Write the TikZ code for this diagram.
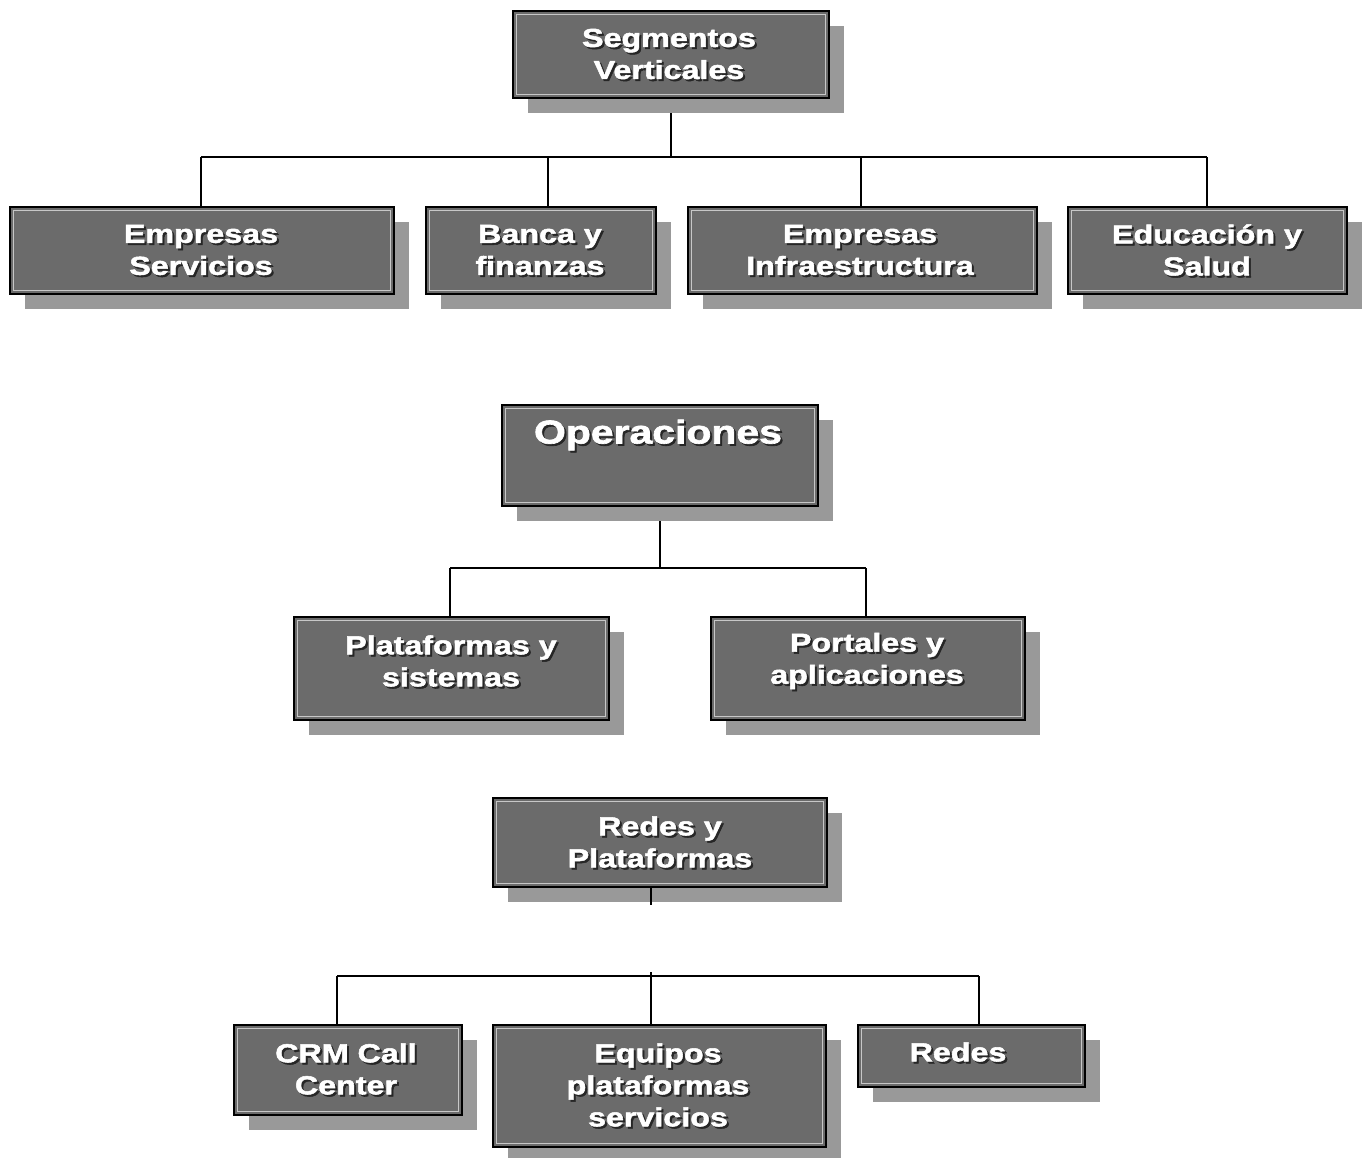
\documentclass[tikz,border=0pt]{standalone}
\usepackage{fontspec}
\newfontfamily\boxfont[FakeStretch=1.24,BoldFeatures={FakeBold=2}]{Liberation Sans}
\usetikzlibrary{shadows}
\begin{document}
\begin{tikzpicture}[x=1pt,y=-1pt,
  box/.style={draw=black, line width=2.4pt, fill=black!58, inner sep=0pt,
    drop shadow={shadow xshift=15pt, shadow yshift=-15pt, fill=black!40, opacity=1},
    path picture={\draw[black!22, line width=0.9pt]
      ([shift={(3.2pt,-3.2pt)}]path picture bounding box.north west) rectangle
      ([shift={(-3.2pt,3.2pt)}]path picture bounding box.south east);}},
  lbl/.style={text=white, align=center, inner sep=0pt,
    font=\boxfont\bfseries\fontsize{26}{32}\selectfont},
  lblshade/.style={lbl, text=black!85},
  link/.style={draw=black, line width=1.8pt}
]
\newcommand\boxlabel[4]{%
  \node[lblshade] (#1s) at (#2+2,#3+2) {#4};
  \node[lbl] (#1) at (#2,#3) {#4};}

\fill[white] (0,0) rectangle (1362,1157);
\useasboundingbox (0,0) rectangle (1362,1157);

% ---------- Segmentos verticales ----------
\draw[link] (671,98) -- (671,157);
\draw[link] (201,157) -- (1207,157);
\draw[link] (201,157) -- (201,207);
\draw[link] (548,157) -- (548,207);
\draw[link] (861,157) -- (861,207);
\draw[link] (1207,157) -- (1207,207);

\node[box, minimum width=316pt, minimum height=87pt] (sv) at (671,54.5) {};
\boxlabel{svt}{669}{54}{Segmentos\\Verticales}

\node[box, minimum width=384pt, minimum height=87pt] (es) at (202,250.5) {};
\boxlabel{est}{201}{250}{Empresas\\Servicios}
\node[box, minimum width=230pt, minimum height=87pt] (ba) at (541,250.5) {};
\boxlabel{bat}{540}{250}{Banca y\\finanzas}
\node[box, minimum width=349pt, minimum height=87pt] (ei) at (862.5,250.5) {};
\boxlabel{eit}{860}{250}{Empresas\\Infraestructura}
\node[box, minimum width=279pt, minimum height=87pt] (ed) at (1207.5,250.5) {};
\boxlabel{edt}{1207}{250}{Educación y\\Salud}

% ---------- Operaciones ----------
\draw[link] (660,506) -- (660,568);
\draw[link] (450,568) -- (866,568);
\draw[link] (450,568) -- (450,617);
\draw[link] (866,568) -- (866,617);

\node[box, minimum width=316pt, minimum height=101pt] (op) at (660,455.5) {};
\node[lblshade, font=\boxfont\bfseries\fontsize{33}{36}\selectfont] (opts) at (660,437) {Operaciones};
\node[lbl, font=\boxfont\bfseries\fontsize{33}{36}\selectfont] (opt) at (658,435) {Operaciones};

\node[box, minimum width=315pt, minimum height=103pt] (pl) at (451.5,668.5) {};
\boxlabel{plt}{451}{661}{Plataformas y\\sistemas}
\node[box, minimum width=314pt, minimum height=103pt] (po) at (868,668.5) {};
\boxlabel{pot}{867}{661}{Portales y\\aplicaciones}

% ---------- Redes y plataformas ----------
\draw[link] (651,972) -- (651,1025);
\draw[link] (337,976) -- (979,976);
\draw[link] (337,976) -- (337,1025);
\draw[link] (979,976) -- (979,1025);

\node[box, minimum width=334pt, minimum height=89pt] (rp) at (660,842.5) {};
\boxlabel{rpt}{660}{842}{Redes y\\Plataformas}
% short stub drawn over the shadow
\draw[link] (651,887) -- (651,905);

\node[box, minimum width=228pt, minimum height=90pt] (cr) at (348,1070) {};
\boxlabel{crt}{346}{1069}{CRM Call\\Center}
\node[box, minimum width=333pt, minimum height=122pt] (eq) at (659.5,1086) {};
\boxlabel{eqt}{658}{1085}{Equipos\\plataformas\\servicios}
\node[box, minimum width=227pt, minimum height=62pt] (re) at (971.5,1056) {};
\boxlabel{ret}{958}{1052}{Redes}
\end{tikzpicture}
\end{document}
